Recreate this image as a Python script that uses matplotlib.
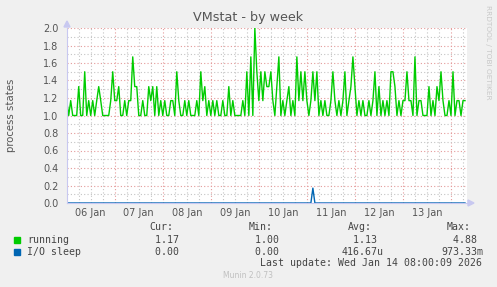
import numpy as np
import matplotlib.pyplot as plt
from matplotlib.patches import Rectangle

# hourly samples starting 06 Jan 00:00, one row per half day
running = [
    1.17, 1.0, 1.17, 1.0, 1.0, 1.0, 1.33, 1.0, 1.0, 1.5, 1.0, 1.17,
    1.0, 1.17, 1.0, 1.17, 1.33, 1.17, 1.0, 1.0, 1.0, 1.0, 1.17, 1.5,
    1.17, 1.17, 1.33, 1.0, 1.0, 1.17, 1.0, 1.17, 1.17, 1.67, 1.33, 1.33,
    1.0, 1.0, 1.17, 1.0, 1.0, 1.33, 1.17, 1.33, 1.0, 1.33, 1.0, 1.17,
    1.0, 1.17, 1.0, 1.0, 1.17, 1.17, 1.0, 1.5, 1.17, 1.0, 1.0, 1.17,
    1.0, 1.17, 1.0, 1.0, 1.0, 1.17, 1.0, 1.5, 1.17, 1.33, 1.0, 1.17,
    1.0, 1.17, 1.0, 1.17, 1.0, 1.0, 1.17, 1.0, 1.0, 1.33, 1.0, 1.17,
    1.0, 1.0, 1.0, 1.0, 1.17, 1.0, 1.5, 1.0, 1.67, 1.0, 2.0, 1.5,
    1.17, 1.5, 1.17, 1.5, 1.33, 1.33, 1.5, 1.17, 1.0, 1.33, 1.67, 1.0,
    1.17, 1.0, 1.17, 1.33, 1.0, 1.17, 1.0, 1.67, 1.17, 1.5, 1.17, 1.5,
    1.17, 1.0, 1.17, 1.5, 1.17, 1.5, 1.0, 1.17, 1.0, 1.17, 1.0, 1.0,
    1.17, 1.5, 1.17, 1.0, 1.17, 1.0, 1.17, 1.5, 1.0, 1.17, 1.33, 1.67,
    1.33, 1.0, 1.17, 1.0, 1.17, 1.0, 1.0, 1.17, 1.0, 1.17, 1.5, 1.0,
    1.33, 1.0, 1.17, 1.0, 1.17, 1.0, 1.5, 1.5, 1.33, 1.0, 1.17, 1.0,
    1.17, 1.17, 1.5, 1.17, 1.17, 1.0, 1.67, 1.0, 1.17, 1.17, 1.0, 1.0,
    1.0, 1.33, 1.0, 1.17, 1.0, 1.33, 1.17, 1.5, 1.17, 1.0, 1.0, 1.17,
    1.0, 1.5, 1.0, 1.17, 1.17, 1.0, 1.17, 1.17,
]
io_sleep = [
    0, 0, 0, 0, 0, 0, 0, 0, 0, 0, 0, 0, 0, 0, 0, 0, 0, 0, 0, 0, 0, 0, 0, 0,
    0, 0, 0, 0, 0, 0, 0, 0, 0, 0, 0, 0, 0, 0, 0, 0, 0, 0, 0, 0, 0, 0, 0, 0,
    0, 0, 0, 0, 0, 0, 0, 0, 0, 0, 0, 0, 0, 0, 0, 0, 0, 0, 0, 0, 0, 0, 0, 0,
    0, 0, 0, 0, 0, 0, 0, 0, 0, 0, 0, 0, 0, 0, 0, 0, 0, 0, 0, 0, 0, 0, 0, 0,
    0, 0, 0, 0, 0, 0, 0, 0, 0, 0, 0, 0, 0, 0, 0, 0, 0, 0, 0, 0, 0, 0, 0, 0,
    0, 0, 0, 0.17, 0, 0, 0, 0, 0, 0, 0, 0, 0, 0, 0, 0, 0, 0, 0, 0, 0, 0, 0, 0,
    0, 0, 0, 0, 0, 0, 0, 0, 0, 0, 0, 0, 0, 0, 0, 0, 0, 0, 0, 0, 0, 0, 0, 0,
    0, 0, 0, 0, 0, 0, 0, 0, 0, 0, 0, 0, 0, 0, 0, 0, 0, 0, 0, 0, 0, 0, 0, 0,
    0, 0, 0, 0, 0, 0, 0, 0,
]
day_labels = ["06 Jan", "07 Jan", "08 Jan", "09 Jan", "10 Jan", "11 Jan", "12 Jan", "13 Jan"]
series_names = ["running", "I/O sleep"]
series_colors = ["#00cc00", "#0066b3"]
cur_vals = ["  1.17 ", "  0.00 "]
min_vals = ["  1.00 ", "  0.00 "]
avg_vals = ["  1.13 ", "416.67u"]
max_vals = ["  4.88 ", "973.33m"]
last_update = "Last update: Wed Jan 14 08:00:09 2026"

W, H = 497, 287
fig = plt.figure(figsize=(W / 100, H / 100), dpi=100, facecolor="#f0f0f0")


def fx(x):
    return x / W


def fy(y):
    return 1 - y / H


ax = fig.add_axes([fx(66.7), fy(203), (467 - 66.7) / W, 175 / H])
ax.set_facecolor("white")

hours = np.arange(len(running))
ax.plot(hours, running, color=series_colors[0], lw=1)
ax.plot(hours, io_sleep, color=series_colors[1], lw=1)

ax.set_xlim(0, 200)
ax.set_ylim(0, 2.0)

# grid: red major, grey minor
ax.set_yticks(np.arange(0, 2.01, 0.2))
ax.set_yticks(np.arange(0, 2.01, 0.1), minor=True)
ax.set_yticklabels(["%.1f" % v for v in np.arange(0, 2.01, 0.2)])
ax.set_xticks(np.arange(24, 200, 24))
ax.set_xticks(np.arange(6, 200, 6), minor=True)
ax.set_xticklabels([])
ax.grid(which="minor", color="#c4c4c4", ls=(0, (1, 2)), lw=0.8)
ax.grid(which="major", color="#e49a9a", ls=(0, (1, 2)), lw=0.8)
ax.set_axisbelow(True)
ax.tick_params(which="both", length=0, labelsize=7, labelcolor="#555555", pad=6)

# day labels sit at noon of each day
for i, lab in enumerate(day_labels):
    ax.text(12 + 24 * i, -0.06, lab, ha="center", va="top", fontsize=7, color="#555555")

for s in ["top", "right"]:
    ax.spines[s].set_visible(False)
for s in ["left", "bottom"]:
    ax.spines[s].set_color("#c8c8f0")
    ax.spines[s].set_linewidth(0.8)

# axis arrows
fig.patches.append(plt.Polygon([[fx(64), fy(27)], [fx(70), fy(27)], [fx(67), fy(21)]],
                               closed=True, color="#c8c8f0", transform=fig.transFigure))
fig.patches.append(plt.Polygon([[fx(468), fy(200)], [fx(468), fy(206)], [fx(474), fy(203)]],
                               closed=True, color="#c8c8f0", transform=fig.transFigure))

fig.text(fx(248), fy(18), "VMstat - by week", ha="center", va="center",
         fontsize=9.2, color="#555555")
fig.text(fx(11), fy(115), "process states", rotation=90, ha="center", va="center",
         fontsize=7.3, color="#555555")
fig.text(fx(488), fy(5), "RRDTOOL / TOBI OETIKER", rotation=270, ha="center", va="top",
         fontsize=5.3, color="#c8c8c8")

mono = dict(family="DejaVu Sans Mono", fontsize=7.1, color="#444444", va="center")
for x, h in zip([149, 249, 348, 447], ["Cur:", "Min:", "Avg:", "Max:"]):
    fig.text(fx(x), fy(227), h, ha="left", **mono)

cols = [cur_vals, min_vals, avg_vals, max_vals]
col_right = [184.7, 285, 383, 483]
for r, (name, color) in enumerate(zip(series_names, series_colors)):
    y = 240 + 12 * r
    fig.patches.append(Rectangle((fx(14), fy(y + 3)), 6 / W, 6 / H, color=color,
                                 transform=fig.transFigure))
    fig.text(fx(27), fy(y), name, ha="left", **mono)
    for vals, xr in zip(cols, col_right):
        fig.text(fx(xr - 7 * 5.97), fy(y), vals[r], ha="left", **mono)

fig.text(fx(482), fy(263.5), last_update, ha="right", **mono)
fig.text(fx(248), fy(276), "Munin 2.0.73", ha="center", va="center",
         fontsize=5.5, color="#c0c0c0")

fig.savefig("out.png", dpi=100, facecolor=fig.get_facecolor())
